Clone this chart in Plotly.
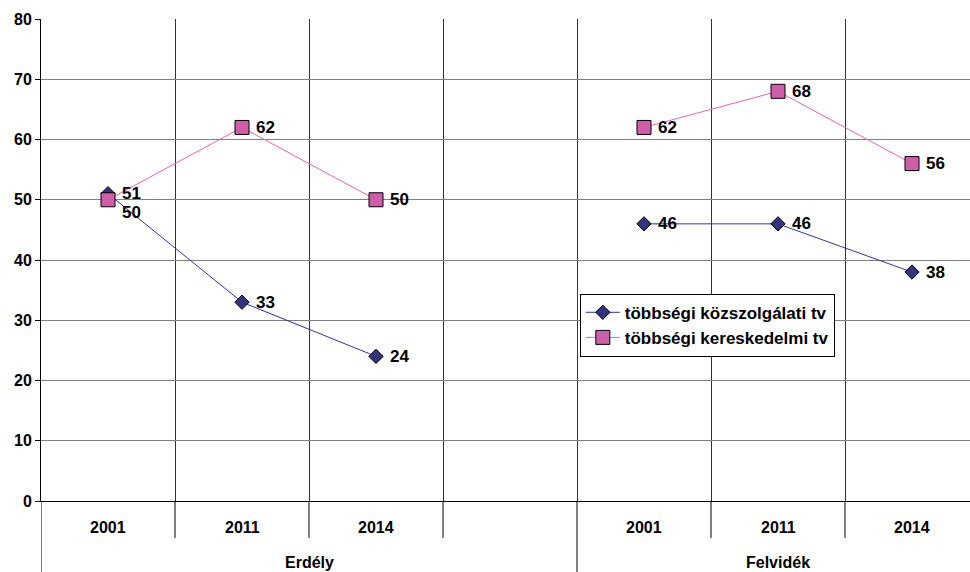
import plotly.graph_objects as go

categories = ["2001", "2011", "2014", "", "2001", "2011", "2014"]
groups = ["Erdély", "Felvidék"]
group_spans = [(0, 3), (4, 6)]  # first/last category index of each group (Erdély includes the blank slot)
kozszolgalati = [51, 33, 24, None, 46, 46, 38]
kereskedelmi = [50, 62, 50, None, 62, 68, 56]
series_names = ["többségi közszolgálati tv", "többségi kereskedelmi tv"]
y_ticks = [0, 10, 20, 30, 40, 50, 60, 70, 80]

FONT = "Liberation Sans, Arial, sans-serif"
xs = list(range(len(categories)))

fig = go.Figure()
fig.add_trace(go.Scatter(
    x=xs, y=kozszolgalati, name=series_names[0], mode="lines+markers",
    connectgaps=False,
    line=dict(color="#333399", width=1),
    marker=dict(symbol="diamond", size=11, color="#333380",
                line=dict(color="#000000", width=1)),
))
fig.add_trace(go.Scatter(
    x=xs, y=kereskedelmi, name=series_names[1], mode="lines+markers",
    connectgaps=False,
    line=dict(color="#E066BE", width=1),
    marker=dict(symbol="square", size=14, color="#CC5FA8",
                line=dict(color="#000000", width=1)),
))

# data labels
label_yshift = {(1, 0): -13}  # (series, index): vertical offset for overlapping label
annotations = []
for si, vals in enumerate([kozszolgalati, kereskedelmi]):
    for i, v in enumerate(vals):
        if v is None:
            continue
        annotations.append(dict(
            x=i, y=v, xref="x", yref="y", text=f"<b>{v}</b>", showarrow=False,
            xanchor="left", yanchor="middle", xshift=12,
            yshift=label_yshift.get((si, i), 0),
            font=dict(family=FONT, size=17, color="#000000"),
        ))

# category labels
for i, c in enumerate(categories):
    if c:
        annotations.append(dict(
            x=i, y=-0.054, xref="x", yref="paper", text=f"<b>{c}</b>",
            showarrow=False, xanchor="center", yanchor="middle",
            font=dict(family=FONT, size=16, color="#000000"),
        ))
# group labels
for g, (a, b) in zip(groups, group_spans):
    annotations.append(dict(
        x=(a - 0.5 + b + 0.5) / 2, y=-0.127, xref="x", yref="paper",
        text=f"<b>{g}</b>", showarrow=False, xanchor="center", yanchor="middle",
        font=dict(family=FONT, size=16, color="#000000"),
    ))

shapes = []
# separators below the axis between category labels
for i in range(len(categories) - 1):
    b = i + 0.5
    group_break = any(b == s - 0.5 for s, _ in group_spans[1:])
    shapes.append(dict(
        type="line", xref="x", yref="paper", x0=b, x1=b, y0=0,
        y1=-0.16 if group_break else -0.077,
        line=dict(color="#000000", width=1), layer="above",
    ))
shapes.append(dict(type="line", xref="x", yref="paper", x0=-0.5, x1=-0.5,
                   y0=0, y1=-0.16, line=dict(color="#000000", width=1), layer="above"))

fig.update_layout(
    width=970, height=572,
    margin=dict(l=41, r=0, t=19, b=71, autoexpand=False),
    paper_bgcolor="#FFFFFF", plot_bgcolor="#FFFFFF",
    showlegend=True,
    legend=dict(
        x=0.580, y=0.430, xanchor="left", yanchor="top",
        bgcolor="#FFFFFF", bordercolor="#000000", borderwidth=1,
        font=dict(family=FONT, size=17, color="#000000", weight="bold"),
        tracegroupgap=0, itemwidth=34,
    ),
    annotations=annotations,
    shapes=shapes,
    xaxis=dict(
        range=[-0.5, -0.5 + 929 / 134], tickvals=[i + 0.5 for i in range(len(categories) - 1)],
        showticklabels=False, showgrid=True, gridcolor="#333333", gridwidth=1,
        showline=True, linecolor="#000000", linewidth=1, zeroline=False, ticks="",
        fixedrange=True, automargin=False,
    ),
    yaxis=dict(
        range=[0, 80], tickvals=y_ticks, ticktext=[f"<b>{t}</b>" for t in y_ticks],
        showgrid=True, gridcolor="#7F7F7F", gridwidth=1,
        showline=True, linecolor="#000000", linewidth=1,
        zeroline=True, zerolinecolor="#000000", zerolinewidth=1,
        ticks="outside", ticklen=5, tickcolor="#000000",
        tickfont=dict(family=FONT, size=16, color="#000000"),
        fixedrange=True, automargin=False,
    ),
)

fig.write_html(
    "out.html",
    config={"displayModeBar": False},
    post_script="document.body.style.margin='0';document.body.style.overflow='hidden';",
)
